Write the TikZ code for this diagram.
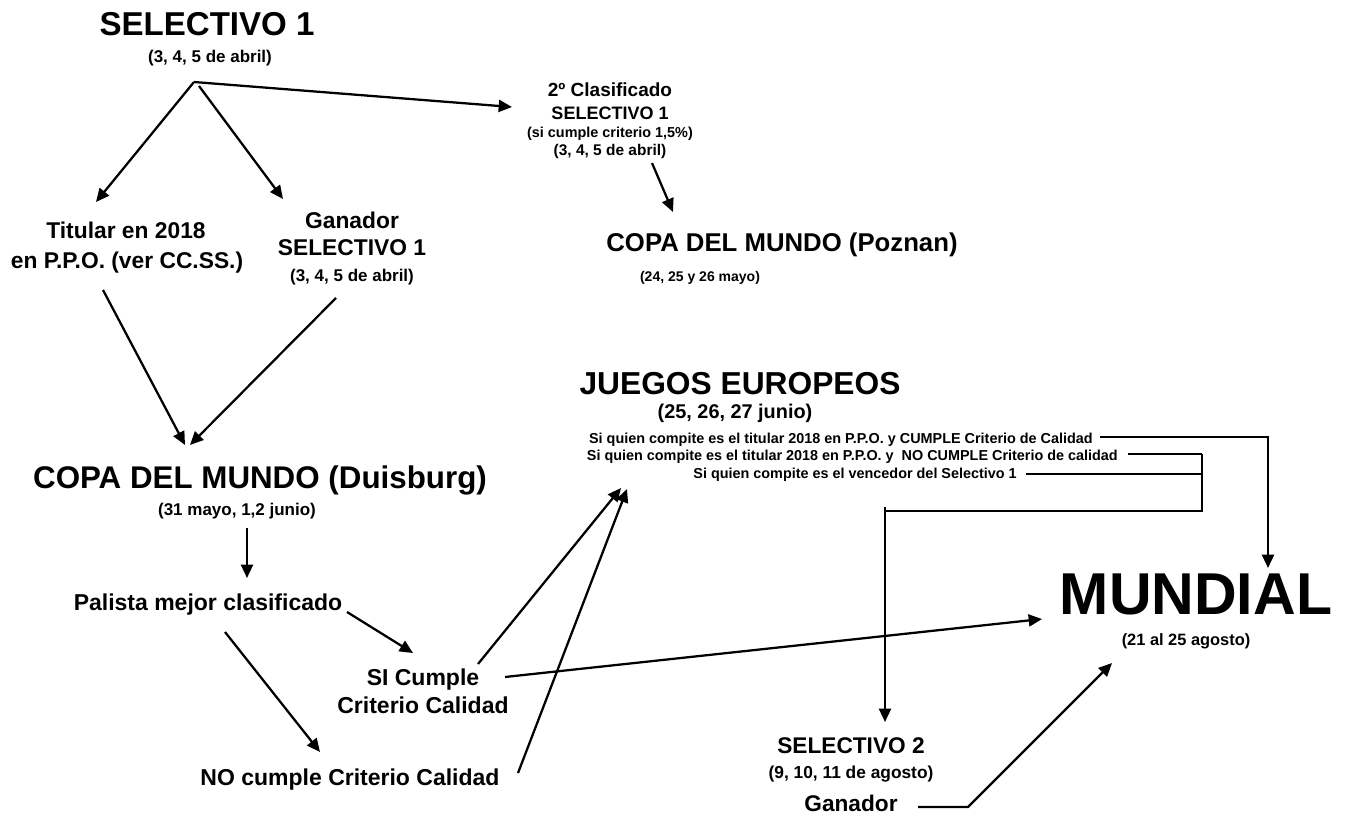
\documentclass[tikz,border=0pt]{standalone}
\usepackage{fontspec}
\setmainfont{Liberation Sans}
\usetikzlibrary{arrows.meta}
\newcommand\fz[1]{\fontsize{#1}{#1}\selectfont\bfseries}
\begin{document}
\begin{tikzpicture}[x=0.75pt,y=-0.75pt,
  tx/.style={inner sep=0pt, anchor=base},
  txe/.style={inner sep=0pt, anchor=base east},
  ar/.style={line width=1.7pt, -{Triangle[length=10pt,width=9pt]}},
  ln/.style={line width=1.7pt}]
\useasboundingbox (0,0) rectangle (1348,830);
% --- texts ---
\node[tx,font=\fz{24.8pt}] (sel1) at (207,35.7) {SELECTIVO 1};
\node[tx,font=\fz{12.75pt}] (sel1d) at (210,63) {(3, 4, 5 de abril)};
\node[tx,font=\fz{17.1pt}] (tit1) at (126,239) {Titular en 2018};
\node[tx,font=\fz{17.1pt}] (tit2) at (127,269) {en P.P.O. (ver CC.SS.)};
\node[tx,font=\fz{17.1pt}] (gan1) at (352,229) {Ganador};
\node[tx,font=\fz{17.1pt}] (gan2) at (352,256) {SELECTIVO 1};
\node[tx,font=\fz{12.75pt}] (gan3) at (352,282) {(3, 4, 5 de abril)};
\node[tx,font=\fz{14.25pt}] (cl1) at (610,97) {2º Clasificado};
\node[tx,font=\fz{13.5pt}] (cl2) at (610,119.5) {SELECTIVO 1};
\node[tx,font=\fz{10.8pt}] (cl3) at (610,138) {(si cumple criterio 1,5\%)};
\node[tx,font=\fz{11.6pt}] (cl4) at (610,155.6) {(3, 4, 5 de abril)};
\node[tx,font=\fz{19.3pt}] (poz) at (782,251.3) {COPA DEL MUNDO (Poznan)};
\node[tx,font=\fz{10.5pt}] (pozd) at (700,282) {(24, 25 y 26 mayo)};
\node[tx,font=\fz{23.5pt}] (dui) at (260,488.3) {COPA DEL MUNDO (Duisburg)};
\node[tx,font=\fz{12.75pt}] (duid) at (237,515) {(31 mayo, 1,2 junio)};
\node[tx,font=\fz{17.25pt}] (pal) at (208,610.3) {Palista mejor clasificado};
\node[tx,font=\fz{17.25pt}] (si1) at (423,685.3) {SI Cumple};
\node[tx,font=\fz{17.25pt}] (si2) at (423,713.3) {Criterio Calidad};
\node[tx,font=\fz{17.25pt}] (no) at (350,785.3) {NO cumple Criterio Calidad};
\node[tx,font=\fz{23.8pt}] (jue) at (740,394.3) {JUEGOS EUROPEOS};
\node[tx,font=\fz{14.9pt}] (jued) at (735,418) {(25, 26, 27 junio)};
\node[txe,font=\fz{10.8pt}] (jl1) at (1093,443) {Si quien compite es el titular 2018 en P.P.O. y CUMPLE Criterio de Calidad};
\node[txe,font=\fz{10.8pt}] (jl2) at (1118,460) {Si quien compite es el titular 2018 en P.P.O. y\ \ NO CUMPLE Criterio de calidad};
\node[txe,font=\fz{10.8pt}] (jl3) at (1017,478.5) {Si quien compite es el vencedor del Selectivo 1};
\node[tx,font=\fz{44.3pt}] (mun) at (1196,614.2) {MUNDIAL};
\node[tx,font=\fz{12.3pt}] (mund) at (1186,645) {(21 al 25 agosto)};
\node[tx,font=\fz{17pt}] (s2) at (851,753) {SELECTIVO 2};
\node[tx,font=\fz{13pt}] (s2d) at (851,778) {(9, 10, 11 de agosto)};
\node[tx,font=\fz{17pt}] (s2g) at (851,811) {Ganador};
% --- connector points ---
\coordinate (j) at (194,82);
\coordinate (j2) at (199,86);
\coordinate (titT) at (96,202);
\coordinate (ganT) at (283,199);
\coordinate (clT) at (512,107);
\coordinate (clB) at (652,163);
\coordinate (pozT) at (673,212);
\coordinate (titB) at (103,290);
\coordinate (ganB) at (336,298);
\coordinate (duiT1) at (185,445);
\coordinate (duiT2) at (190,445);
\coordinate (duiB) at (247,528);
\coordinate (palT) at (247,578);
\coordinate (palE) at (347,612);
\coordinate (palB) at (225,632);
\coordinate (siT) at (413,653);
\coordinate (noT) at (320,752);
\coordinate (siE) at (478,664);
\coordinate (siR) at (505,677);
\coordinate (noE) at (518,773);
\coordinate (jueB1) at (621,488);
\coordinate (jueB2) at (627,489);
\coordinate (munW) at (1042,619);
\coordinate (jl1e) at (1100,437);
\coordinate (c1) at (1268,437);
\coordinate (munT) at (1268,568);
\coordinate (jl2e) at (1128,454);
\coordinate (jl3e) at (1026,474);
\coordinate (v2) at (1202,454);
\coordinate (v3) at (1202,474);
\coordinate (vb) at (1202,511);
\coordinate (hb) at (885,511);
\coordinate (hbt) at (885,507);
\coordinate (s2T) at (885,722);
\coordinate (gE) at (918,807);
\coordinate (gK) at (968,807);
\coordinate (munS) at (1112,663);
% --- connectors ---
\draw[ar] (j) -- (titT);
\draw[ar] (j2) -- (ganT);
\draw[ar] (j) -- (clT);
\draw[ar] (clB) -- (pozT);
\draw[ar] (titB) -- (duiT1);
\draw[ar] (ganB) -- (duiT2);
\draw[ar] (duiB) -- (palT);
\draw[ar] (palE) -- (siT);
\draw[ar] (palB) -- (noT);
\draw[ar] (siE) -- (jueB1);
\draw[ar] (noE) -- (jueB2);
\draw[ar] (siR) -- (munW);
\draw[ar] (jl1e) -- (c1) -- (munT);
\draw[ln] (jl2e) -- (v2);
\draw[ln] (jl3e) -- (v3);
\draw[ln] (v2) -- (vb) -- (hb);
\draw[ar] (hbt) -- (s2T);
\draw[ar] (gE) -- (gK) -- (munS);
\end{tikzpicture}
\end{document}
